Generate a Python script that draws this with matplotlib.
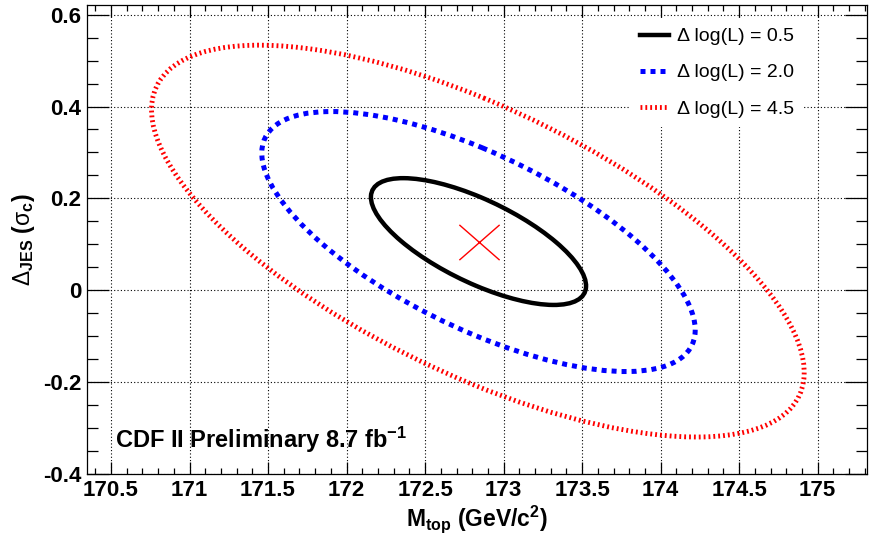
import numpy as np
import matplotlib
matplotlib.use('Agg')
import matplotlib.pyplot as plt
from matplotlib.patches import Ellipse
from matplotlib.lines import Line2D
from matplotlib.path import Path
from matplotlib.ticker import MultipleLocator

plt.rcParams['font.family'] = ['Liberation Sans', 'DejaVu Sans']
plt.rcParams['mathtext.fontset'] = 'custom'
plt.rcParams['mathtext.rm'] = 'Liberation Sans'
plt.rcParams['mathtext.bf'] = 'Liberation Sans:bold'
plt.rcParams['mathtext.it'] = 'Liberation Sans:italic'

# likelihood contours
levels = [0.5, 2.0, 4.5]
center_mtop = [172.84, 172.84, 172.836]
center_jes = [0.106, 0.106, 0.107]
half_mtop = [0.685, 1.38, 2.078]   # half extent along M_top
half_jes = [0.138, 0.283, 0.4265]  # half extent along Delta_JES
corr = [-0.70, -0.68, -0.67]

# best fit point
best_mtop = 172.845
best_jes = 0.105

x_ticks = [170.5, 171, 171.5, 172, 172.5, 173, 173.5, 174, 174.5, 175]
x_labels = ['170.5', '171', '171.5', '172', '172.5', '173', '173.5', '174', '174.5', '175']
y_ticks = [-0.4, -0.2, 0, 0.2, 0.4, 0.6]
y_labels = ['-0.4', '-0.2', '0', '0.2', '0.4', '0.6']

styles = [
    dict(color='black', linewidth=3.2, linestyle='-'),
    dict(color='#0000ff', linewidth=3.6, linestyle=(0, (1.0, 1.0))),
    dict(color='#ff0000', linewidth=3.5, linestyle=(0, (0.38, 0.62))),
]

fig = plt.figure(figsize=(8.77, 5.36), dpi=100)
ax = fig.add_axes([0.0992, 0.1157, 0.8894, 0.875])

for i in range(len(levels)):
    c = corr[i] * half_mtop[i] * half_jes[i]
    cov = np.array([[half_mtop[i] ** 2, c], [c, half_jes[i] ** 2]])
    vals, vecs = np.linalg.eigh(cov)
    w = 2 * np.sqrt(vals[1])
    h = 2 * np.sqrt(vals[0])
    ang = np.degrees(np.arctan2(vecs[1, 1], vecs[0, 1]))
    ax.add_patch(Ellipse((center_mtop[i], center_jes[i]), w, h, angle=ang,
                         fill=False, zorder=3, **styles[i]))

xmark = Path([(-1, -0.875), (1, 0.875), (-1, 0.875), (1, -0.875)],
             [Path.MOVETO, Path.LINETO, Path.MOVETO, Path.LINETO])
ax.plot([best_mtop], [best_jes], marker=xmark, ms=29, mew=1.0, color='red',
        mfc='none', ls='none', zorder=4)

ax.set_xlim(170.347, 175.314)
ax.set_ylim(-0.4, 0.621)
ax.set_xticks(x_ticks, x_labels)
ax.set_yticks(y_ticks, y_labels)
ax.xaxis.set_minor_locator(MultipleLocator(0.1))
ax.yaxis.set_minor_locator(MultipleLocator(0.05))
ax.tick_params(which='both', direction='in', top=True, right=True, width=0.9)
ax.tick_params(axis='x', which='major', length=8.5, labelsize=16, pad=4)
ax.tick_params(axis='x', which='minor', length=4)
ax.tick_params(axis='y', which='major', length=15.5, labelsize=16, pad=4)
ax.tick_params(axis='y', which='minor', length=8)
for lab in ax.get_xticklabels() + ax.get_yticklabels():
    lab.set_fontweight('bold')
for sp in ax.spines.values():
    sp.set_linewidth(0.9)

ax.grid(True, which='major', color='black', linestyle=(0, (1, 2)), linewidth=0.8)

ax.set_xlabel(r'$\mathbf{M_{top}}$ (GeV/c$^{\mathbf{2}}$)', fontsize=16.5, fontweight='bold')
ax.xaxis.set_label_coords(0.5, -0.062)
ax.set_ylabel(r'$\mathrm{\Delta}_{\mathbf{JES}}$ ($\mathrm{\sigma}_{\mathbf{c}}$)',
              fontsize=16.5, fontweight='bold')
ax.yaxis.set_label_coords(-0.064, 0.5)

ax.text(170.525, -0.344, r'CDF II Preliminary 8.7 fb$^{\mathbf{-1}}$',
        fontsize=17, fontweight='bold', va='baseline')

handles = [Line2D([], [], **s) for s in styles]
labels = [f'\u0394 log(L) = {v:.1f}' for v in levels]
ax.legend(handles, labels, loc='upper left', bbox_to_anchor=(630 / 877, 518 / 536),
          bbox_transform=fig.transFigure, fontsize=14, frameon=True, fancybox=False,
          framealpha=1, facecolor='white', edgecolor='none', handlelength=1.5,
          handletextpad=0.4, labelspacing=0.95, borderpad=0.5, borderaxespad=0)

fig.savefig('out.png', dpi=100)
